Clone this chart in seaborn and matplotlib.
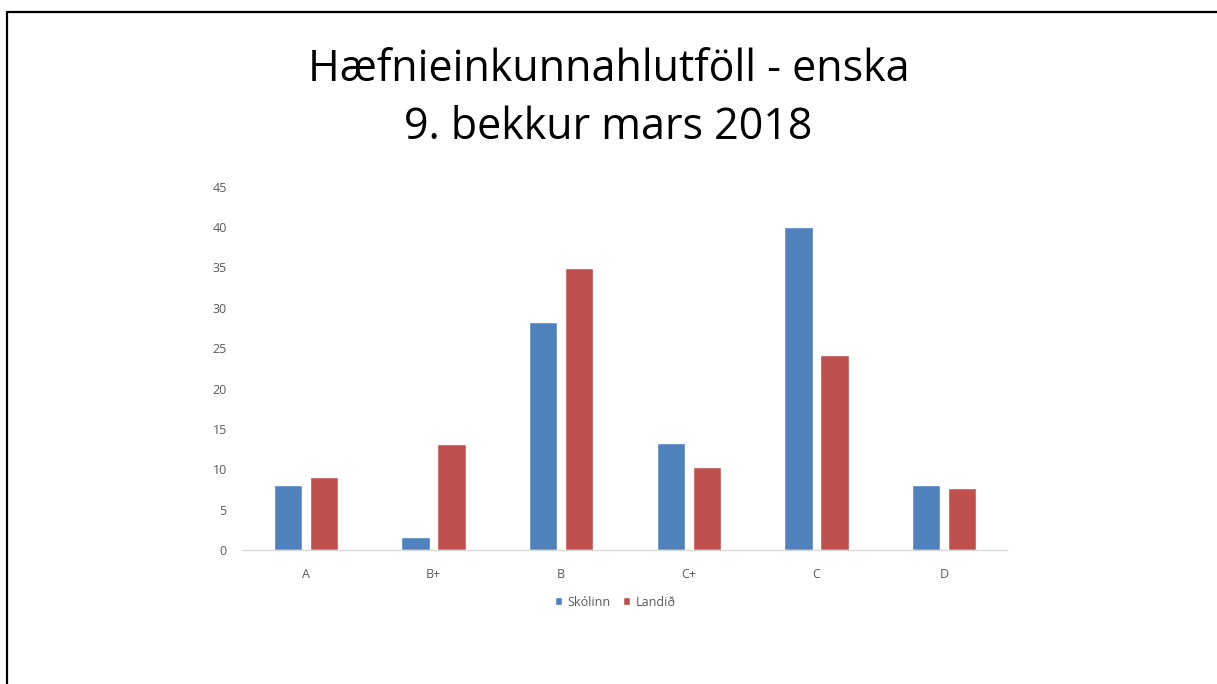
import pandas as pd
import matplotlib.pyplot as plt
import seaborn as sns
from matplotlib.lines import Line2D

# Dados
categorias = ['A', 'B+', 'B', 'C+', 'C', 'D']
skolinn = [8.0, 1.6, 28.3, 13.2, 40.0, 8.1]
landid = [9.0, 13.1, 34.9, 10.3, 24.1, 7.7]
series = ['Skólinn', 'Landið']
cores = ['#4F81BD', '#C0504D']

df = pd.DataFrame({
    'Flokkur': categorias * 2,
    'Hlutfall': skolinn + landid,
    'Hópur': [series[0]] * len(categorias) + [series[1]] * len(categorias),
})

sns.set_style('white')
plt.rcParams['font.family'] = ['Open Sans', 'DejaVu Sans']

fig = plt.figure(figsize=(12.17, 6.84), dpi=100)
ax = fig.add_axes([242 / 1217, 1 - 550 / 684, 766 / 1217, 363.3 / 684])

sns.barplot(data=df, x='Flokkur', y='Hlutfall', hue='Hópur', palette=cores,
            width=0.564, gap=0.22, ax=ax, saturation=1)

ax.set_ylim(0, 45)
ax.set_xlim(-0.5, 5.5)
ax.set_yticks(range(0, 46, 5))
ax.set_xlabel('')
ax.set_ylabel('')
for s in ['top', 'right', 'left']:
    ax.spines[s].set_visible(False)
ax.spines['bottom'].set_color('#D9D9D9')
ax.spines['bottom'].set_linestyle((0, (2, 1)))
ax.spines['bottom'].set_linewidth(1)
ax.tick_params(axis='both', length=0, colors='#595959', labelsize=9)
ax.tick_params(axis='y', pad=11)
ax.tick_params(axis='x', pad=13)

ax.legend(loc='upper center', bbox_to_anchor=(0.487, -0.095), ncol=2, frameon=False,
          fontsize=9, handlelength=0.6, handleheight=0.6, handletextpad=0.4,
          columnspacing=1.0, labelcolor='#595959')

fig.text(0.5, 1 - 70 / 684, 'Hæfnieinkunnahlutföll - enska', ha='center', va='center',
         fontsize=31, color='black')
fig.text(0.5, 1 - 128 / 684, '9. bekkur mars 2018', ha='center', va='center',
         fontsize=31, color='black')

# Rammi
fig.add_artist(Line2D([6.5 / 1217, 1.0], [1 - 11.5 / 684] * 2, color='black', lw=1.6,
                      transform=fig.transFigure))
fig.add_artist(Line2D([6.5 / 1217] * 2, [0.0, 1 - 11.5 / 684], color='black', lw=1.6,
                      transform=fig.transFigure))

fig.savefig('out.png', dpi=100, facecolor='white')
